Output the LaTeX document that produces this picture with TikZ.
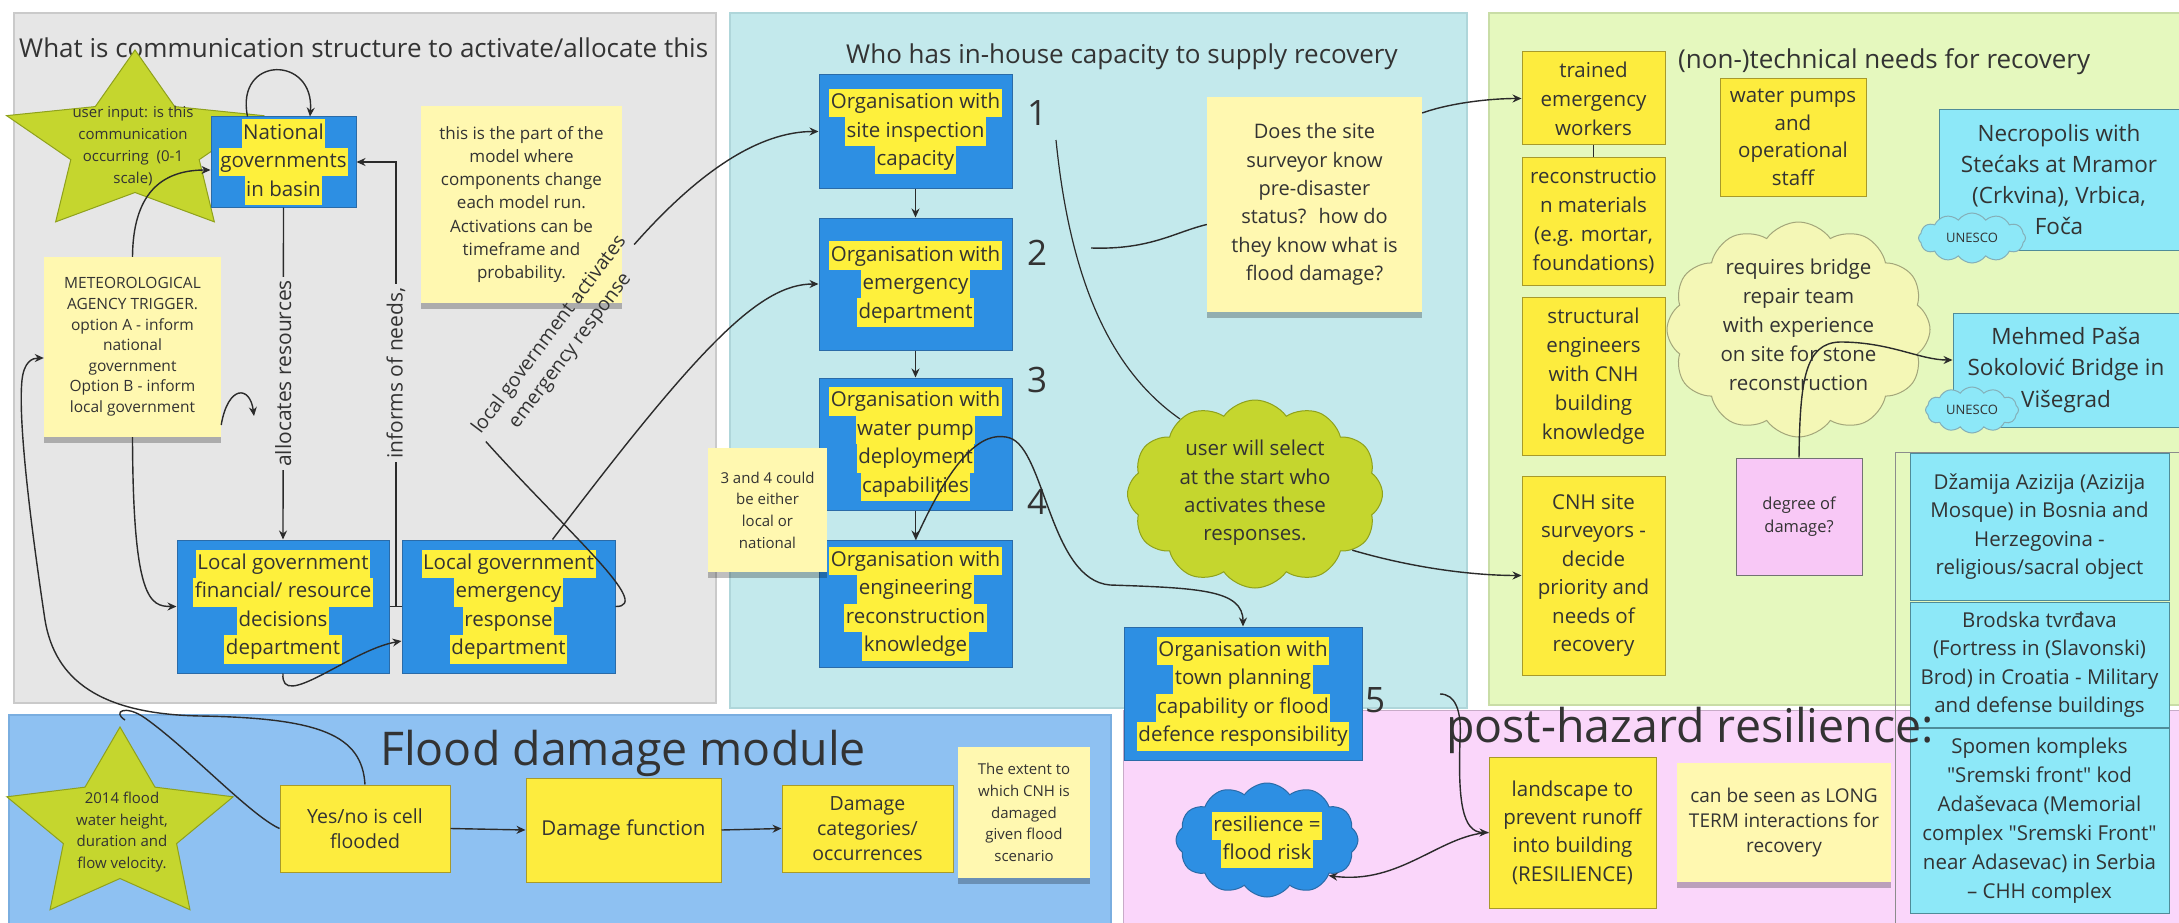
\documentclass[tikz,border=0pt]{standalone}
\usepackage{fontspec}
\setmainfont{Open Sans}
\newfontfamily\plainfont{Open Sans}[Ligatures=TeXOff]
\usetikzlibrary{shapes.symbols,shadows,arrows.meta}
\definecolor{greyp}{HTML}{E6E6E6}
\definecolor{greybd}{HTML}{CACACA}
\definecolor{tealp}{HTML}{C3E9EC}
\definecolor{tealbd}{HTML}{AFD6DA}
\definecolor{greenp}{HTML}{E5F8BE}
\definecolor{greenbd}{HTML}{C9DDA6}
\definecolor{pinkp}{HTML}{FAD6FA}
\definecolor{floodp}{HTML}{8EC1F2}
\definecolor{floodbd}{HTML}{7AAEE0}
\definecolor{blueb}{HTML}{2D8FE3}
\definecolor{bluebd}{HTML}{2A6BA8}
\definecolor{hly}{HTML}{FEF03C}
\definecolor{yfill}{HTML}{FDEC3E}
\definecolor{ybd}{HTML}{A89A2A}
\definecolor{stick}{HTML}{FFF8B0}
\definecolor{cyanf}{HTML}{8DE8F8}
\definecolor{cbd}{HTML}{4F8C99}
\definecolor{pinkb}{HTML}{F8C8F6}
\definecolor{starg}{HTML}{C5D62E}
\definecolor{starbd}{HTML}{8FA11C}
\definecolor{palec}{HTML}{F4F7B6}
\definecolor{palebd}{HTML}{A3A67A}
\definecolor{txtc}{HTML}{333333}
\definecolor{linec}{HTML}{2B2B2B}
\newcommand{\hl}[1]{{\setlength{\fboxsep}{0pt}\colorbox{hly}{\strut\kern1.5pt#1\kern1.5pt}}}
\newcommand{\qq}{{\plainfont\symbol{"22}}}
\newcommand{\mystar}[4]{%
  \filldraw[starst] ({#1},{#2-#4}) \foreach \a/\r in {126/0.5,162/1,198/0.5,234/1,270/0.5,306/1,342/0.5,18/1,54/0.5}{ -- ({#1+#3*\r*cos(\a)},{#2-#4*\r*sin(\a)}) } -- cycle;}
\tikzset{
  every node/.style={text=txtc},
  starst/.style={fill=starg, draw=starbd, line width=1pt},
  bbox/.style={draw=bluebd, fill=blueb, line width=1pt, inner sep=0pt, align=center, font=\fontsize{20.5}{28.5}\selectfont},
  ybox/.style={draw=ybd, fill=yfill, line width=1pt, inner sep=0pt, align=center, font=\fontsize{20.5}{29}\selectfont},
  cbox/.style={draw=cbd, fill=cyanf, line width=1pt, inner sep=0pt, align=center, font=\fontsize{20.5}{28.5}\selectfont},
  sticky/.style={fill=stick, inner sep=0pt, align=center, drop shadow={shadow xshift=0pt, shadow yshift=-6pt, fill=black, opacity=0.25}},
  conn/.style={draw=linec, line width=1.4pt},
  arr/.style={conn, -{Stealth[length=9pt,width=8pt]}},
  ptitle/.style={font=\fontsize{26}{30}\selectfont, anchor=west, inner sep=0pt},
  bigtitle/.style={font=\fontsize{46.5}{50}\selectfont, inner sep=0pt},
  num/.style={font=\fontsize{35}{40}\selectfont, inner sep=0pt},
  lab/.style={font=\fontsize{21}{28}\selectfont, inner sep=3pt},
  txt/.style={align=center, inner sep=0pt},
  cl/.style={cloud, cloud puffs=12, cloud puff arc=110, cloud ignores aspect, inner sep=0pt, line width=1pt},
}
\begin{document}
\begin{tikzpicture}[x=1pt,y=-1pt]
\useasboundingbox (0,0) rectangle (2179,923);
\clip (0,0) rectangle (2179,923);
\fill[white] (0,0) rectangle (2179,923);
% panels
\filldraw[fill=greyp, draw=greybd, line width=1.2pt] (14,13) rectangle (716,703);
\filldraw[fill=tealp, draw=tealbd, line width=1.2pt] (730,13) rectangle (1467,708);
\filldraw[fill=greenp, draw=greenbd, line width=1.2pt] (1489,13) rectangle (2195,705);
\filldraw[fill=pinkp, draw=pinkp!80!black, line width=1pt] (1123,710) rectangle (2195,935);
\filldraw[fill=floodp, draw=floodbd, line width=1.2pt] (9,715) rectangle (1111,935);

% titles
\node[ptitle] (t1) at (19,48) {What is communication structure to activate/allocate this};
\node[ptitle] (t2) at (846,57) {Who has in-house capacity to supply recovery};
\node[ptitle] (t3) at (1678,62) {(non-)technical needs for recovery};
\node[bigtitle] (t4) at (623,753) {Flood damage module};

% ---------- grey panel ----------
\mystar{135}{145}{135}{95}
\node[txt, font=\fontsize{15}{21.7}\selectfont] (s1t) at (133,146) {user input: is this\\communication\\occurring \ (0-1\\scale)};
\node[bbox, minimum width=145pt, minimum height=90pt] (nat) at (283.5,162) {\hl{National}\\\hl{governments}\\\hl{in basin}};
\node[sticky, minimum width=177pt, minimum height=180pt, font=\fontsize{15.5}{20.6}\selectfont] (met) at (132.5,347) {METEOROLOGICAL\\AGENCY TRIGGER.\\option A - inform\\national\\government\\Option B - inform\\local government};
\node[sticky, minimum width=201pt, minimum height=197pt, font=\fontsize{17}{23.3}\selectfont] (pnote) at (521.5,204.5) {this is the part of the\\model where\\components change\\each model run.\\Activations can be\\timeframe and\\probability.};
\node[bbox, minimum width=212pt, minimum height=133pt] (fin) at (283,606.5) {\hl{Local government}\\\hl{financial/ resource}\\\hl{decisions}\\\hl{department}};
\node[bbox, minimum width=213pt, minimum height=133pt] (em) at (508.5,606.5) {\hl{Local government}\\\hl{emergency}\\\hl{response}\\\hl{department}};

% ---------- teal panel ----------
\node[bbox, minimum width=193pt, minimum height=113pt] (org1) at (915.5,131.5) {\hl{Organisation with}\\\hl{site inspection}\\\hl{capacity}};
\node[bbox, minimum width=193pt, minimum height=132pt] (org2) at (915.5,284) {\hl{Organisation with}\\\hl{emergency}\\\hl{department}};
\node[bbox, minimum width=193pt, minimum height=132pt] (org3) at (915.5,444) {\hl{Organisation with}\\\hl{water pump}\\\hl{deployment}\\\hl{capabilities}};
\node[bbox, minimum width=193pt, minimum height=127pt] (org4) at (915.5,603.5) {\hl{Organisation with}\\\hl{engineering}\\\hl{reconstruction}\\\hl{knowledge}};
\node[num] (n1) at (1037,113) {1};
\node[num] (n2) at (1037,253) {2};
\node[num] (n3) at (1037,380) {3};
\node[num] (n4) at (1037,502) {4};
\node[sticky, minimum width=215pt, minimum height=215pt, font=\fontsize{20}{28.4}\selectfont] (snote) at (1314.5,204.5) {Does the site\\surveyor know\\pre-disaster\\status? \ how do\\they know what is\\flood damage?};
\node[cl, fill=starg, draw=starbd, minimum width=255pt, minimum height=188pt] (gcloud) at (1255,494) {};
\node[txt, font=\fontsize{20.5}{28.3}\selectfont] (gct) at (1255,493) {user will select\\at the start who\\activates these\\responses.};

% ---------- green panel ----------
\node[ybox, minimum width=143pt, minimum height=93pt] (trained) at (1593.5,98.5) {trained\\emergency\\workers};
\node[ybox, minimum width=143pt, minimum height=127pt] (recon) at (1593.5,221.5) {reconstructio\\n materials\\(e.g. mortar,\\foundations)};
\node[ybox, minimum width=143pt, minimum height=158pt] (struct) at (1593.5,376) {structural\\engineers\\with CNH\\building\\knowledge};
\node[ybox, minimum width=143pt, minimum height=199pt, font=\fontsize{20.5}{28.5}\selectfont] (cnh) at (1593.5,575.5) {CNH site\\surveyors -\\decide\\priority and\\needs of\\recovery};
\node[ybox, minimum width=146pt, minimum height=117pt, font=\fontsize{20.5}{27.5}\selectfont] (wpump) at (1793,137.5) {water pumps\\and\\operational\\staff};
\node[cbox, minimum width=240pt, minimum height=140pt, font=\fontsize{22.5}{31}\selectfont] (necro) at (2059,180) {Necropolis with\\Stećaks at Mramor\\(Crkvina), Vrbica,\\Foča};
\node[cl, fill=cyanf, draw=cbd!70, minimum width=107pt, minimum height=50pt, font=\fontsize{13}{15}\selectfont] (un1) at (1972,238) {UNESCO};
\node[cl, fill=palec, draw=palebd, minimum width=263pt, minimum height=215pt] (bcloud) at (1798.5,329.5) {};
\node[txt, font=\fontsize{20.5}{29}\selectfont] (bct) at (1798.5,325) {requires bridge\\repair team\\with experience\\on site for stone\\reconstruction};
\node[cbox, minimum width=226pt, minimum height=114pt, font=\fontsize{22.5}{31.5}\selectfont] (mehmed) at (2066,370) {Mehmed Paša\\Sokolović Bridge in\\Višegrad};
\node[cl, fill=cyanf, draw=cbd!70, minimum width=93pt, minimum height=46pt, font=\fontsize{13}{15}\selectfont] (un2) at (1972,410) {UNESCO};
\node[draw=black!55, fill=pinkb, line width=1pt, minimum width=126pt, minimum height=117pt, txt, font=\fontsize{16.5}{23}\selectfont] (degree) at (1799,516.5) {degree of\\damage?};
\draw[draw=black!45, line width=1pt] (1895,452) rectangle (2195,935);
\node[cbox, minimum width=259pt, minimum height=147pt] (dzam) at (2039.5,526.5) {Džamija Azizija (Azizija\\Mosque) in Bosnia and\\Herzegovina -\\religious/sacral object};
\node[cbox, minimum width=259pt, minimum height=125pt] (brod) at (2039.5,664.5) {Brodska tvrđava\\(Fortress in (Slavonski)\\Brod) in Croatia - Military\\and defense buildings};
\node[cbox, minimum width=259pt, minimum height=185pt, font=\fontsize{20.5}{29}\selectfont] (spomen) at (2039.5,820.5) {Spomen kompleks\\\qq Sremski front\qq{} kod\\Adaševaca (Memorial\\complex \qq Sremski Front\qq\\near Adasevac) in Serbia\\– CHH complex};

% ---------- pink panel ----------
\node[bbox, minimum width=238pt, minimum height=133pt] (org5) at (1243,693.5) {\hl{Organisation with}\\\hl{town planning}\\\hl{capability or flood}\\\hl{defence responsibility}};
\node[num] (n5) at (1375,700) {5};
\node[bigtitle] (t5) at (1690,730) {post-hazard resilience:};
\node[cl, fill=blueb, draw=bluebd, minimum width=182pt, minimum height=114pt] (rescloud) at (1267,840) {};
\node[txt, font=\fontsize{20.5}{28}\selectfont] (rct) at (1267,840) {\hl{resilience =}\\\hl{flood risk}};
\node[ybox, minimum width=167pt, minimum height=151pt, font=\fontsize{20.5}{28.3}\selectfont] (land) at (1572.5,832.5) {landscape to\\prevent runoff\\into building\\(RESILIENCE)};
\node[sticky, minimum width=214pt, minimum height=119pt, font=\fontsize{19}{25}\selectfont] (lterm) at (1784,822.5) {can be seen as LONG\\TERM interactions for\\recovery};

% ---------- flood panel ----------
\mystar{120}{828}{119}{101}
\node[txt, font=\fontsize{15}{21.7}\selectfont] (s2t) at (122,832) {2014 flood\\water height,\\duration and\\flow velocity.};
\node[ybox, minimum width=170pt, minimum height=87pt, font=\fontsize{19.5}{25}\selectfont] (yesno) at (365,828.5) {Yes/no is cell\\flooded};
\node[ybox, minimum width=195pt, minimum height=104pt] (dmgfun) at (623.5,830) {Damage function};
\node[ybox, minimum width=171pt, minimum height=87pt, font=\fontsize{19.5}{25}\selectfont] (dmgcat) at (867.5,828.5) {Damage\\categories/\\occurrences};
\node[sticky, minimum width=132pt, minimum height=131pt, font=\fontsize{15}{21.7}\selectfont] (extent) at (1024,812.5) {The extent to\\which CNH is\\damaged\\given flood\\scenario};

% note overlapping teal boxes
\node[sticky, minimum width=119pt, minimum height=124pt, font=\fontsize{15}{21.7}\selectfont] (n34) at (767.5,510) {3 and 4 could\\be either\\local or\\national};

% ---------- connectors ----------
% grey panel
\draw[arr] ([xshift=-36pt]nat.north) .. controls (235,55) and (315,55) .. ([xshift=26.5pt]nat.north);
\draw[arr] (met.north) .. controls (133,195) and (160,170) .. ([yshift=-8pt]nat.west);
\draw[arr] (nat.south) -- node[lab, rotate=90, fill=greyp] (alloc) {allocates resources} (fin.north);
\coordinate (J) at (396,606.5);
\draw[conn] (fin.east) -- (em.west);
\draw[arr] (J) -- node[lab, rotate=90, fill=greyp, pos=0.525] (inform) {informs of needs,} (J |- nat.east) -- (nat.east);
\coordinate (marc) at (254,416);
\draw[arr] ([yshift=-78pt]met.east) .. controls (228,385) and (250,385) .. (marc);
\draw[arr] (met.south) .. controls (133,600) and (150,606.5) .. (fin.west);
\draw[arr] (fin.south) .. controls (280,712) and (350,650) .. ([yshift=-34.5pt]em.west);
\node[font=\fontsize{19.5}{26}\selectfont, inner sep=2pt, rotate=53, align=center] (act) at (560,343) {local government activates\\emergency response};
\draw[conn] (em.east) .. controls (655,607) and (565,530) .. (act.west);
\draw[arr] (act.east) .. controls (700,170) and (760,131.5) .. (org1.west);
\draw[arr] ([xshift=44pt]em.north) .. controls (700,345) and (760,284) .. (org2.west);
% teal panel
\draw[arr] (org1.south) -- (org2.north);
\draw[arr] (org2.south) -- (org3.north);
\draw[arr] (org3.south) -- (org4.north);
\coordinate (c1) at (1056,140);
\draw[conn, line width=1.2pt] (c1) .. controls (1070,280) and (1110,370) .. (gcloud.135);
\coordinate (c2) at (1091,248);
\draw[conn] (c2) .. controls (1150,250) and (1175,232) .. ([yshift=-20pt]snote.west);
\draw[arr] ([yshift=91.5pt]snote.east) .. controls (1450,103) and (1490,98.5) .. (trained.west);
\draw[arr] (gcloud.-30) .. controls (1420,570) and (1480,575.5) .. (cnh.west);
\draw[arr] (org4.north) .. controls (960,440) and (990,432) .. (1010,438) .. controls (1045,450) and (1050,580) .. (1110,585) .. controls (1200,588) and (1243,590) .. (org5.north);
% green panel
\draw[conn, line width=1pt] (trained.south) -- (recon.north);
\draw[arr] (degree.north) .. controls (1800,380) and (1805,343) .. (1840,342) .. controls (1890,342) and (1920,360) .. ([yshift=10pt]mehmed.west);
% pink panel
\coordinate (h5) at (1440,694);
\draw[arr] (h5) .. controls (1455,694) and (1462,710) .. (1460,740) .. controls (1458,800) and (1462,832.5) .. (land.west);
\draw[arr] (land.west) .. controls (1440,835) and (1400,885) .. (rescloud.-30);
% flood panel
\draw[arr] (yesno.east) -- (dmgfun.west);
\draw[arr] (dmgfun.east) -- (dmgcat.west);
\draw[arr] (yesno.north) .. controls (362,735) and (320,718) .. (200,716) .. controls (100,714) and (55,680) .. (45,620) .. controls (30,520) and (18,420) .. (22,380) .. controls (24,362) and (32,358) .. ([yshift=-11pt]met.west);
\draw[conn] (yesno.west) .. controls (250,815) and (190,750) .. (145,718) .. controls (125,704) and (112,712) .. (125,720);
\end{tikzpicture}
\end{document}
